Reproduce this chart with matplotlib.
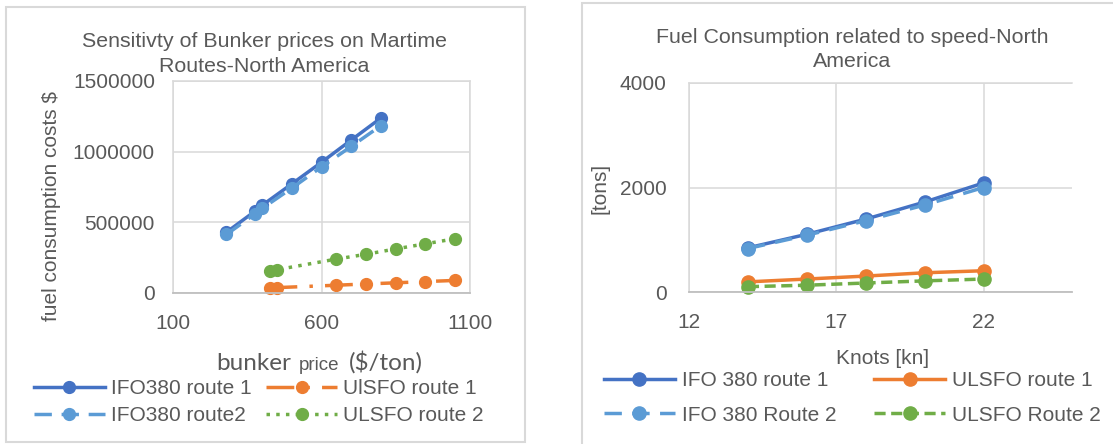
import matplotlib
matplotlib.use("Agg")
import matplotlib.pyplot as plt
from matplotlib.patches import Rectangle
from matplotlib.ticker import FixedLocator, StrMethodFormatter

# --- bunker price sensitivity (left) ---
ifo_price = [280, 375, 400, 500, 600, 700, 800]
ifo_cost_route1 = [430000, 577000, 620000, 772000, 925000, 1082000, 1238000]
ifo_cost_route2 = [414000, 558000, 598000, 742000, 892000, 1037000, 1184000]
ulsfo_price = [425, 450, 650, 750, 850, 950, 1050]
ulsfo_cost_route1 = [36000, 38000, 55000, 64000, 72000, 81000, 89000]
ulsfo_cost_route2 = [156000, 165000, 240000, 274000, 312000, 348000, 384000]

# --- fuel consumption vs speed (right) ---
speed_kn = [14, 16, 18, 20, 22]
ifo_tons_route1 = [845, 1105, 1395, 1722, 2088]
ifo_tons_route2 = [832, 1086, 1365, 1665, 2000]
ulsfo_tons_route1 = [194, 248, 305, 368, 407]
ulsfo_tons_route2 = [102, 130, 172, 213, 248]

W, H = 1113, 444
DARK_BLUE = "#4472C4"
ORANGE = "#ED7D31"
LIGHT_BLUE = "#5B9BD5"
GREEN = "#70AD47"
TEXT = "#595959"
GRID = "#D9D9D9"
AXIS = "#BFBFBF"
FONT = "Liberation Sans"
FS = 15

plt.rcParams["font.family"] = [FONT, "DejaVu Sans"]


def fx(px):
    return px / W


def fy(py):
    return (H - py) / H


fig = plt.figure(figsize=(W / 100, H / 100), dpi=100)

# chart area frames
fig.patches.append(Rectangle((fx(6), fy(442)), fx(525) - fx(6), fy(7) - fy(442),
                             transform=fig.transFigure, fill=False, ec=GRID, lw=1.5))
fig.patches.append(Rectangle((fx(582), fy(470)), fx(1130) - fx(582), fy(3) - fy(470),
                             transform=fig.transFigure, fill=False, ec=GRID, lw=1.5))


def style_axes(ax, right_spine=True):
    ax.grid(True, color=GRID, lw=1.1)
    ax.set_axisbelow(True)
    for side in ("left", "top", "right"):
        ax.spines[side].set_color(GRID)
        ax.spines[side].set_linewidth(1.1)
    ax.spines["right"].set_visible(right_spine)
    ax.spines["bottom"].set_color(AXIS)
    ax.spines["bottom"].set_linewidth(1.3)
    ax.tick_params(length=0, labelsize=FS, labelcolor=TEXT)
    ax.set_facecolor("none")


# ---------------- left chart ----------------
ax1 = fig.add_axes([fx(173), fy(293), fx(470) - fx(173), fy(81) - fy(293)])
style_axes(ax1)
ax1.set_xlim(100, 1100)
ax1.set_ylim(0, 1500000)
ax1.xaxis.set_major_locator(FixedLocator([100, 600, 1100]))
ax1.yaxis.set_major_locator(FixedLocator([0, 500000, 1000000, 1500000]))
ax1.yaxis.set_major_formatter(StrMethodFormatter("{x:.0f}"))
ax1.tick_params(axis="y", pad=13)
ax1.tick_params(axis="x", pad=15)

lw, ms = 2.5, 8.5
ax1.plot(ifo_price, ifo_cost_route1, color=DARK_BLUE, lw=lw, marker="o", ms=ms,
         label="IFO380 route 1", clip_on=False)
ax1.plot(ulsfo_price, ulsfo_cost_route1, color=ORANGE, lw=lw, marker="o", ms=ms,
         linestyle=(0, (8, 3.5, 1, 3.5)), label="UlSFO route 1", clip_on=False)
ax1.plot(ifo_price, ifo_cost_route2, color=LIGHT_BLUE, lw=lw, marker="o", ms=ms,
         linestyle=(0, (5, 2.8)), label="IFO380 route2", clip_on=False)
ax1.plot(ulsfo_price, ulsfo_cost_route2, color=GREEN, lw=lw, marker="o", ms=ms,
         linestyle=(0, (1, 1.8)), label="ULSFO route 2", clip_on=False)

h, l = ax1.get_legend_handles_labels()
order = [0, 2, 1, 3]
ax1.legend([h[i] for i in order], [l[i] for i in order], ncol=2, frameon=False,
           loc="upper left", bbox_to_anchor=(fx(34), fy(379)), bbox_transform=fig.transFigure,
           borderpad=0, borderaxespad=0, handlelength=3.4, handletextpad=0.3,
           columnspacing=0.7, labelspacing=0.4, fontsize=FS, labelcolor=TEXT)

fig.text(fx(264), fy(54), "Sensitivty of Bunker prices on Martime\nRoutes-North America",
         ha="center", va="center", ma="center", fontsize=15.4, color=TEXT, linespacing=1.35)
fig.text(fx(52), fy(206), "fuel consumption costs $", rotation=90,
         ha="center", va="center", fontsize=FS, color=TEXT)
fig.text(fx(291), fy(370), "bunker", ha="right", va="baseline", fontsize=17.5,
         color=TEXT, family=["Lato", "DejaVu Sans"])
fig.text(fx(319), fy(370), "price", ha="center", va="baseline", fontsize=13.5, color=TEXT)
fig.text(fx(349), fy(370), "($/ton)", ha="left", va="baseline", fontsize=17.5,
         color=TEXT, family=["Lato", "DejaVu Sans"])

# ---------------- right chart ----------------
ax2 = fig.add_axes([fx(689), fy(292), fx(1072) - fx(689), fy(83) - fy(292)])
style_axes(ax2, right_spine=False)
ax2.set_xlim(12, 25)
ax2.set_ylim(0, 4000)
ax2.xaxis.set_major_locator(FixedLocator([12, 17, 22]))
ax2.yaxis.set_major_locator(FixedLocator([0, 2000, 4000]))
ax2.tick_params(axis="y", pad=16)
ax2.tick_params(axis="x", pad=15)

ms2 = 9.5
ax2.plot(speed_kn, ifo_tons_route1, color=DARK_BLUE, lw=lw, marker="o", ms=ms2,
         label="IFO 380 route 1", clip_on=False)
ax2.plot(speed_kn, ulsfo_tons_route1, color=ORANGE, lw=lw, marker="o", ms=ms2,
         label="ULSFO route 1", clip_on=False)
ax2.plot(speed_kn, ifo_tons_route2, color=LIGHT_BLUE, lw=lw, marker="o", ms=ms2,
         linestyle=(0, (5, 3)), label="IFO 380 Route 2", clip_on=False)
ax2.plot(speed_kn, ulsfo_tons_route2, color=GREEN, lw=lw, marker="o", ms=ms2,
         linestyle=(0, (3.2, 1.6)), label="ULSFO Route 2", clip_on=False)

h, l = ax2.get_legend_handles_labels()
ax2.legend([h[i] for i in order], [l[i] for i in order], ncol=2, frameon=False,
           loc="upper left", bbox_to_anchor=(fx(604), fy(371)), bbox_transform=fig.transFigure,
           borderpad=0, borderaxespad=0, handlelength=3.4, handletextpad=0.35,
           columnspacing=1.8, labelspacing=0.75, fontsize=FS, labelcolor=TEXT)

fig.text(fx(852), fy(49.5), "Fuel Consumption related to speed-North\nAmerica",
         ha="center", va="center", ma="center", fontsize=15.4, color=TEXT, linespacing=1.35)
fig.text(fx(600), fy(188), "[tons]", rotation=90, ha="center", va="center",
         fontsize=FS, color=TEXT)
fig.text(fx(883), fy(358), "Knots [kn]", ha="center", va="center", fontsize=FS, color=TEXT)

fig.savefig("out.png", dpi=100)
